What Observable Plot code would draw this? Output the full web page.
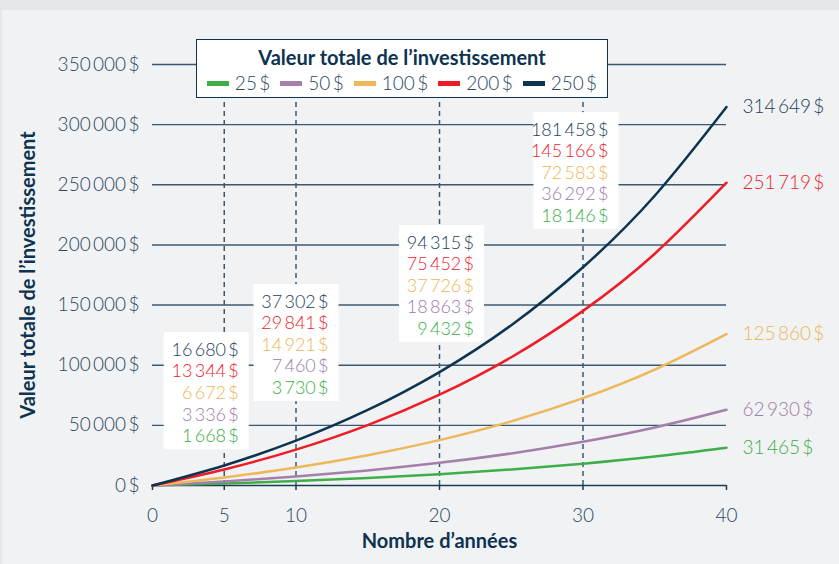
<!DOCTYPE html>
<html>
<head>
<meta charset="utf-8">
<script src="https://cdn.jsdelivr.net/npm/d3@7"></script>
<script src="https://cdn.jsdelivr.net/npm/@observablehq/plot@0.6"></script>
<style>
  html, body { margin: 0; padding: 0; background: #e6e7e9; }
  #wrap { position: absolute; left: 2px; top: 10px; width: 837px; height: 554px; background: #f1f2f4; overflow: hidden; }
  #legend { position: absolute; left: 194px; top: 29px; width: 412px; height: 59px; box-sizing: border-box;
    border: 1.5px solid #0d3350; background: #fff; font-family: Lato, sans-serif; }
  #legend .title { position: absolute; left: 0; right: 0; top: 4px; text-align: center; font-weight: bold; font-size: 20px; color: #0d3350; line-height: 26px; }
  #legend .row { position: absolute; left: 0; right: 0; top: 31px; display: flex; justify-content: center; align-items: center; font-size: 19px; font-weight: 300; color: #2a4762; line-height: 24px; }
  #legend .item { display: flex; align-items: center; margin: 0 5px; }
  #legend .sw { width: 22px; height: 5px; margin-right: 6px; }
</style>
</head>
<body>
<div id="wrap"><div id="chart"></div><div id="legend"></div></div>
<script>
// ---- data ----
const years = [0, 5, 10, 15, 20, 25, 30, 35, 40];
const series = ["25 $", "50 $", "100 $", "200 $", "250 $"];
const v25  = [0, 1668, 3730, 6280, 9432, 13325, 18146, 24090, 31465];
const v50  = [0, 3336, 7460, 12560, 18863, 26650, 36292, 48180, 62930];
const v100 = [0, 6672, 14921, 25120, 37726, 53300, 72583, 96350, 125860];
const v200 = [0, 13344, 29841, 50240, 75452, 106600, 145166, 192700, 251719];
const v250 = [0, 16680, 37302, 62800, 94315, 133250, 181458, 240900, 314649];
const labelYears = [5, 10, 20, 30];
const xTicks = [0, 5, 10, 20, 30, 40];
const yTicks = [0, 50000, 100000, 150000, 200000, 250000, 300000, 350000];
const legendTitle = "Valeur totale de l’investissement";
const xTitle = "Nombre d’années";
const yTitle = "Valeur totale de l’investissement";

// ---- styles / layout ----
const lineColors = {"25 $": "#3daf48", "50 $": "#a47fac", "100 $": "#eeb75a", "200 $": "#ee1c25", "250 $": "#0c3350"};
const textColors = {"25 $": "#3aae45", "50 $": "#a07aa8", "100 $": "#edb655", "200 $": "#ee222b", "250 $": "#233e59"};
const boxLayout = [
  {year: 5, top: 127000, right: 25},
  {year: 10, top: 167000, right: 43},
  {year: 20, top: 216000, right: 45},
  {year: 30, top: 310000, right: 36}
];
const FONT = "Lato, sans-serif";

const valuesBySeries = {"25 $": v25, "50 $": v50, "100 $": v100, "200 $": v200, "250 $": v250};
const rows = series.flatMap(s => years.map((yr, i) => ({series: s, year: yr, value: valuesBySeries[s][i]})));
const ends = series.map(s => ({series: s, year: years[years.length - 1], value: valuesBySeries[s][years.length - 1]}));

const loc = d3.formatLocale({decimal: ",", thousands: "\u2009", grouping: [3], currency: ["", ""]});
const fmtInt = loc.format(",d");
const fmt = v => fmtInt(v) + "\u2009$";

function labelBoxes(index, scales) {
  const g = d3.create("svg:g").attr("font-family", FONT).attr("font-size", 18).attr("font-weight", 300);
  const order = series.slice().reverse();
  for (const b of boxLayout) {
    const xr = scales.x(b.year) + b.right;
    const yt = scales.y(b.top);
    g.append("rect").attr("x", xr - 85).attr("y", yt).attr("width", 85).attr("height", 117).attr("fill", "#fff");
    order.forEach((s, i) => {
      const idx = years.indexOf(b.year);
      g.append("text")
        .attr("x", xr - 10).attr("y", yt + 17 + i * 21.6).attr("dy", "0.36em")
        .attr("text-anchor", "end").attr("fill", textColors[s])
        .text(fmt(valuesBySeries[s][idx]));
    });
  }
  return g.node();
}

const chart = Plot.plot({
  width: 837,
  height: 554,
  marginLeft: 150,
  marginRight: 113,
  marginTop: 54,
  marginBottom: 79,
  style: {fontFamily: FONT, fontSize: "19px", fontWeight: 300, background: "transparent", color: "#2a4762"},
  x: {domain: [0, 40]},
  y: {domain: [0, 350000]},
  color: {domain: series, range: series.map(s => lineColors[s])},
  marks: [
    Plot.ruleY(yTicks.filter(v => v > 0), {stroke: "#3b5872", strokeWidth: 1.4}),
    Plot.ruleX(labelYears, {y1: 0, y2: 350000, stroke: "#3b5872", strokeWidth: 1.5, strokeDasharray: "5,4"}),
    Plot.ruleY([0], {stroke: "#1d3a55", strokeWidth: 1.5}),
    Plot.axisX({ticks: xTicks, tickSize: 5, tickPadding: 18, stroke: "#1d3a55", strokeWidth: 1.5, label: null, fontSize: 19}),
    Plot.axisY({ticks: yTicks, tickSize: 0, tickPadding: 13, tickFormat: fmt, label: null, fontSize: 19}),
    Plot.line(rows, {x: "year", y: "value", z: "series", stroke: "series", strokeWidth: 2.5, curve: "natural"}),
    Plot.text(ends, {x: "year", y: "value", text: d => fmt(d.value), dx: 16, textAnchor: "start", fill: d => textColors[d.series], fontSize: 19}),
    labelBoxes,
    Plot.text([xTitle], {frameAnchor: "bottom", dy: 62, textAnchor: "middle", fontWeight: "bold", fontSize: 20, fill: "#0d3350"}),
    Plot.text([yTitle], {frameAnchor: "left", rotate: -90, dx: -124, textAnchor: "middle", fontWeight: "bold", fontSize: 20, fill: "#0d3350"})
  ]
});
document.getElementById("chart").append(chart);

// legend
const legend = d3.select("#legend");
legend.append("div").attr("class", "title").text(legendTitle);
const row = legend.append("div").attr("class", "row");
series.forEach(s => {
  const it = row.append("div").attr("class", "item");
  it.append("div").attr("class", "sw").style("background", lineColors[s]);
  it.append("span").text(s.replace(" ", "\u2009"));
});
</script>
</body>
</html>
